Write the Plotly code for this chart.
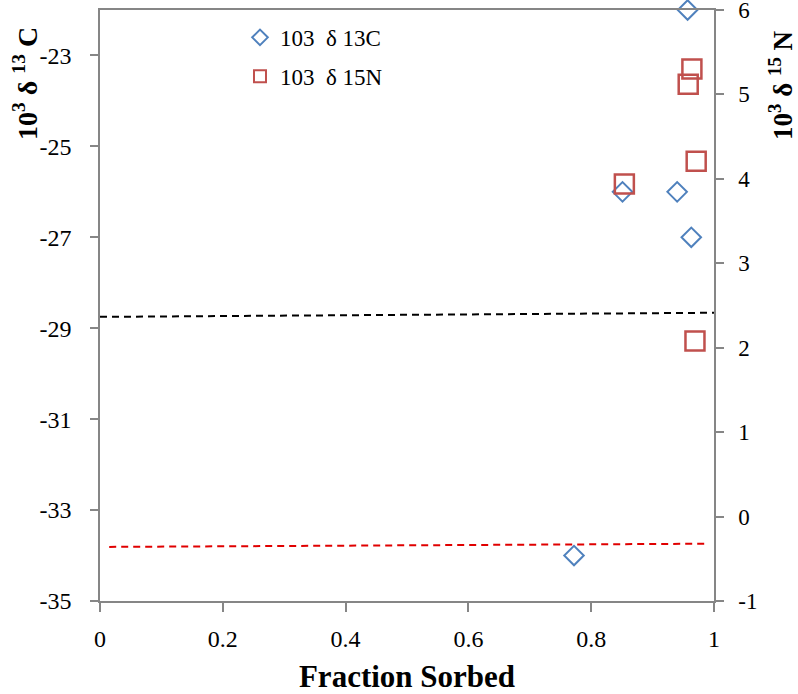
import plotly.graph_objects as go

# Data
c13_fraction = [0.772, 0.851, 0.940, 0.963, 0.957]
c13_delta = [-34.0, -26.0, -26.0, -27.0, -22.0]

n15_fraction = [0.854, 0.958, 0.964, 0.971, 0.969]
n15_delta = [3.94, 5.12, 5.30, 4.21, 2.08]

black_line_x = [0.0, 1.0]
black_line_y = [-28.75, -28.66]
red_line_x = [0.015, 0.99]
red_line_y = [-33.81, -33.74]

x_ticks = [0, 0.2, 0.4, 0.6, 0.8, 1]
x_tick_labels = ["0", "0.2", "0.4", "0.6", "0.8", "1"]
left_ticks = [-35, -33, -31, -29, -27, -25, -23]
left_tick_labels = ["-35", "-33", "-31", "-29", "-27", "-25", "-23"]
right_ticks = [-1, 0, 1, 2, 3, 4, 5, 6]
right_tick_labels = ["-1", "0", "1", "2", "3", "4", "5", "6"]

FONT = "Liberation Serif"
BLUE = "#4F81BD"
RED = "#C0504D"
AXIS = "#868686"

fig = go.Figure()

fig.add_trace(go.Scatter(
    x=black_line_x, y=black_line_y, mode="lines",
    line=dict(color="#000000", width=2, dash="7px,5px"),
    showlegend=False, hoverinfo="skip"))
fig.add_trace(go.Scatter(
    x=red_line_x, y=red_line_y, mode="lines",
    line=dict(color="#E00000", width=2, dash="7px,5px"),
    showlegend=False, hoverinfo="skip"))

fig.add_trace(go.Scatter(
    x=c13_fraction, y=c13_delta, mode="markers", name="103  \u03b4 13C",
    legendgroup="c",
    marker=dict(symbol="diamond-open", size=15, color=BLUE, line=dict(width=2, color=BLUE)),
    cliponaxis=False))
fig.add_trace(go.Scatter(
    x=n15_fraction, y=n15_delta, mode="markers", name="103  \u03b4 15N",
    legendgroup="n", yaxis="y2",
    marker=dict(symbol="square-open", size=19, color=RED, line=dict(width=2.5, color=RED)),
    cliponaxis=False))

fig.update_layout(
    width=798, height=694,
    margin=dict(l=100, r=84, t=10, b=93),
    plot_bgcolor="white", paper_bgcolor="white",
    font=dict(family=FONT, size=22, color="#000000"),
    xaxis=dict(
        range=[0, 1], tickvals=x_ticks, ticktext=x_tick_labels,
        showgrid=False, zeroline=False, automargin=False,
        showline=True, linecolor=AXIS, linewidth=1.5, mirror=True,
        ticks="outside", ticklen=9, tickcolor=AXIS, tickwidth=1.5,
        ticklabelstandoff=6,
        tickfont=dict(family=FONT, size=24),
        title=dict(text="<b>Fraction Sorbed</b>", font=dict(family=FONT, size=31), standoff=18),
    ),
    yaxis=dict(
        range=[-35, -22], tickvals=left_ticks, ticktext=left_tick_labels,
        showgrid=False, zeroline=False, automargin=False,
        showline=True, linecolor=AXIS, linewidth=1.5,
        ticks="outside", ticklen=8, tickcolor=AXIS, tickwidth=1.5,
        ticklabelstandoff=14,
        tickfont=dict(family=FONT, size=24),
    ),
    yaxis2=dict(
        range=[-1, 6], tickvals=right_ticks, ticktext=right_tick_labels,
        overlaying="y", side="right",
        showgrid=False, zeroline=False, automargin=False,
        showline=True, linecolor=AXIS, linewidth=1.5,
        ticks="outside", ticklen=8, tickcolor=AXIS, tickwidth=1.5,
        ticklabelstandoff=10, ticklabeloverflow="allow",
        tickfont=dict(family=FONT, size=23),
    ),
    legend=dict(
        x=0.228, y=0.99, xanchor="left", yanchor="top",
        bgcolor="rgba(0,0,0,0)", font=dict(family=FONT, size=23),
        itemsizing="constant", tracegroupgap=6, traceorder="grouped",
    ),
    annotations=[
        dict(text="<b>10<sup>3</sup> \u03b4 <sup>13</sup> C</b>", xref="paper", yref="paper",
             x=(26 - 100) / 614, y=(601 - 84) / 591, xanchor="center", yanchor="middle",
             textangle=-90, showarrow=False,
             font=dict(family=FONT, size=28)),
        dict(text="<b>10<sup>3</sup> \u03b4 <sup>15</sup> N</b>", xref="paper", yref="paper",
             x=(781 - 100) / 614, y=(601 - 85) / 591, xanchor="center", yanchor="middle",
             textangle=-90, showarrow=False,
             font=dict(family=FONT, size=27)),
    ],
)

fig.write_html("out.html")
